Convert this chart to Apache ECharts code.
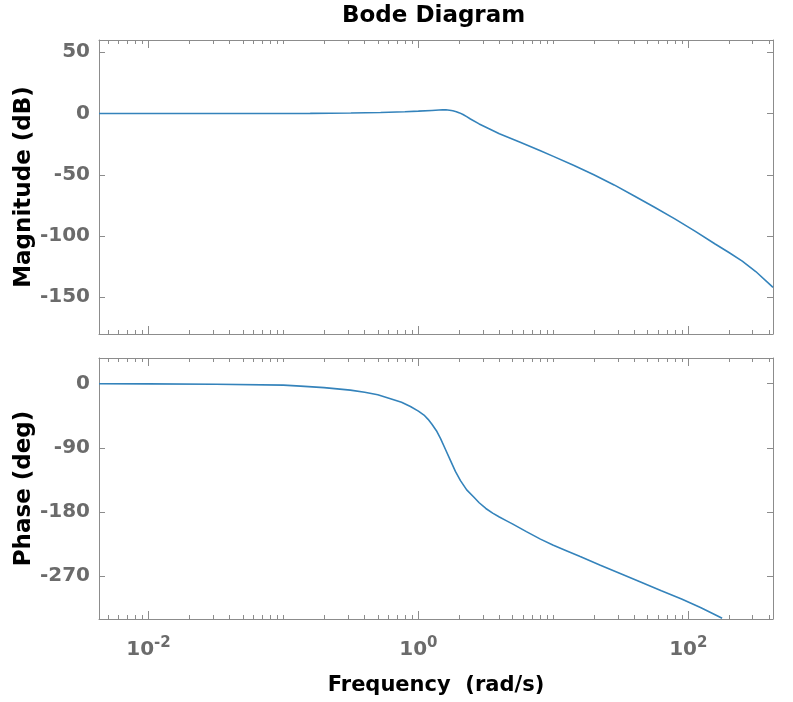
<!DOCTYPE html>
<html><head><meta charset="utf-8">
<script src="https://cdn.jsdelivr.net/npm/echarts@6/dist/echarts.min.js"></script>
<style>html,body{margin:0;padding:0;background:#fff}#c{width:793px;height:702px}</style>
</head><body><div id="c"></div>
<script>
// ---- data ----
const magFreq = [0.0043, 0.0316, 0.1, 0.158, 0.316, 0.525, 0.794, 1.0, 1.26, 1.51, 1.60, 1.70, 1.80, 1.91, 2.02, 2.14, 2.28, 2.43, 2.82, 3.31, 3.98, 5.62, 7.94, 10, 14.1, 19.95, 28.2, 39.8, 56.2, 79.4, 112, 158, 200, 251, 316, 424];
const magDb   = [0, 0, 0, 0.1, 0.4, 0.8, 1.4, 1.9, 2.5, 3.0, 3.0, 2.7, 2.2, 1.5, 0.5, -0.8, -2.6, -4.5, -8.5, -12.3, -16.5, -23.3, -30.2, -35, -42.3, -50, -58.3, -67.3, -76.5, -86, -96, -106.5, -113.5, -120.5, -129, -142];
const phaseFreq = [0.0043, 0.01, 0.0316, 0.1, 0.134, 0.2, 0.313, 0.4, 0.5, 0.621, 0.75, 0.873, 1.0, 1.10, 1.18, 1.26, 1.36, 1.46, 1.585, 1.73, 1.88, 2.05, 2.28, 2.57, 2.82, 3.16, 3.55, 3.98, 4.47, 5.01, 6.31, 8.02, 10, 12.6, 15.8, 22.3, 31.6, 44.7, 63.1, 89.1, 123, 158, 178];
const phaseDeg  = [-0.2, -0.3, -0.8, -2, -3.5, -5.5, -9, -12, -15.5, -21, -26, -32, -38.5, -44, -50, -57, -66, -77, -92, -108, -123, -136, -149, -159, -167, -175, -181.5, -187, -192, -197, -207.5, -218, -226.5, -234.5, -242.5, -254.5, -266.5, -278.5, -290.5, -302, -314, -324, -329];
const xMajorTicks = [0.01, 1, 100];
const xMinorTicks = [0.005, 0.006, 0.007, 0.008, 0.009, 0.02, 0.03, 0.04, 0.05, 0.06, 0.07, 0.08, 0.09, 0.1, 0.2, 0.3, 0.4, 0.5, 0.6, 0.7, 0.8, 0.9, 2, 3, 4, 5, 6, 7, 8, 9, 10, 20, 30, 40, 50, 60, 70, 80, 90, 200, 300, 400];
const magTicks = [-150, -100, -50, 0, 50];
const phaseTicks = [-270, -180, -90, 0];
const xRange = [0.0043, 424];
const magRange = [-180, 60];
const phaseRange = [-330, 36];

// ---- styling ----
const FONT = "'DejaVu Sans', 'Liberation Sans', Arial, sans-serif";
const AXC = '#8c8c8c';
const LBL = '#6b6b6b';
const LINE = '#3483bb';

function xAx(grid, pos, ticks, len, withLine, withLabels) {
  const a = {
    type: 'log', logBase: 10, gridIndex: grid, position: pos,
    min: xRange[0], max: xRange[1],
    axisLine: { show: withLine, onZero: false, lineStyle: { color: AXC, width: 1 } },
    axisTick: { show: true, inside: true, length: len, customValues: ticks, lineStyle: { color: AXC, width: 1 } },
    axisLabel: { show: false },
    splitLine: { show: false }, minorTick: { show: false }, minorSplitLine: { show: false }
  };
  if (withLabels) {
    a.axisLabel = {
      show: true, customValues: xMajorTicks, margin: 17,
      color: LBL, fontFamily: FONT, fontWeight: 'bold', fontSize: 20, lineHeight: 28,
      formatter: v => '{b|10}{s|' + Math.round(Math.log10(v)) + '}',
      rich: {
        b: { color: LBL, fontFamily: FONT, fontWeight: 'bold', fontSize: 20, lineHeight: 28 },
        s: { color: LBL, fontFamily: FONT, fontWeight: 'bold', fontSize: 15, lineHeight: 15, verticalAlign: 'top' }
      }
    };
    a.name = 'Frequency  (rad/s)';
    a.nameLocation = 'middle';
    a.nameGap = 56;
    a.nameTextStyle = { color: '#000', fontFamily: FONT, fontWeight: 'bold', fontSize: 21 };
  }
  return a;
}

function yAx(grid, pos, range, ticks, name, withLabels) {
  const a = {
    type: 'value', gridIndex: grid, position: pos,
    min: range[0], max: range[1],
    axisLine: { show: true, onZero: false, lineStyle: { color: AXC, width: 1 } },
    axisTick: { show: true, inside: true, length: 6, customValues: ticks, lineStyle: { color: AXC, width: 1 } },
    axisLabel: { show: false },
    splitLine: { show: false }
  };
  if (withLabels) {
    a.axisLabel = { show: true, customValues: ticks, margin: 9, color: LBL, fontFamily: FONT, fontWeight: 'bold', fontSize: 20 };
    a.name = name;
    a.nameLocation = 'middle';
    a.nameGap = 63;
    a.nameMoveOverlap = false;
    a.nameTextStyle = { color: '#000', fontFamily: FONT, fontWeight: 'bold', fontSize: 23 };
  }
  return a;
}

const chart = echarts.init(document.getElementById('c'), null, { renderer: 'canvas' });
chart.setOption({
  backgroundColor: '#fff',
  animation: false,
  title: {
    text: 'Bode Diagram', left: 342, top: 5, padding: 0,
    textStyle: { color: '#000', fontFamily: FONT, fontWeight: 'bold', fontSize: 23 }
  },
  grid: [
    { left: 99, top: 40, width: 674, height: 294 },
    { left: 99, top: 358, width: 674, height: 261 }
  ],
  xAxis: [
    xAx(0, 'bottom', xMajorTicks, 8, true, false),
    xAx(0, 'bottom', xMinorTicks, 4, false, false),
    xAx(0, 'top', xMajorTicks, 8, true, false),
    xAx(0, 'top', xMinorTicks, 4, false, false),
    xAx(1, 'bottom', xMajorTicks, 8, true, true),
    xAx(1, 'bottom', xMinorTicks, 4, false, false),
    xAx(1, 'top', xMajorTicks, 8, true, false),
    xAx(1, 'top', xMinorTicks, 4, false, false)
  ],
  yAxis: [
    yAx(0, 'left', magRange, magTicks, 'Magnitude (dB)', true),
    yAx(0, 'right', magRange, magTicks, '', false),
    yAx(1, 'left', phaseRange, phaseTicks, 'Phase (deg)', true),
    yAx(1, 'right', phaseRange, phaseTicks, '', false)
  ],
  series: [
    {
      type: 'line', xAxisIndex: 0, yAxisIndex: 0,
      data: magFreq.map((f, i) => [f, magDb[i]]),
      showSymbol: false, smooth: false, clip: true,
      lineStyle: { color: LINE, width: 1.6 }
    },
    {
      type: 'line', xAxisIndex: 4, yAxisIndex: 2,
      data: phaseFreq.map((f, i) => [f, phaseDeg[i]]),
      showSymbol: false, smooth: false, clip: true,
      lineStyle: { color: LINE, width: 1.6 }
    }
  ]
});
</script></body></html>
